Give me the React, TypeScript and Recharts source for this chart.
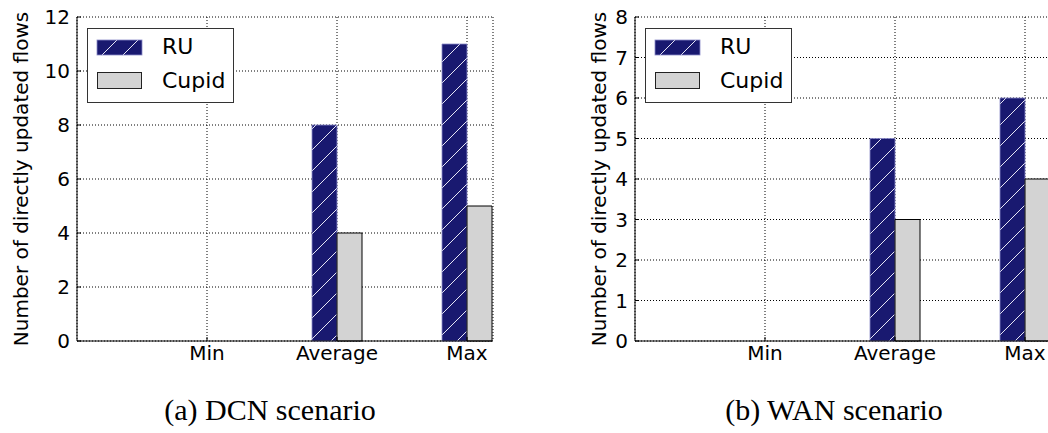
import { Bar, BarChart, CartesianGrid, Legend, XAxis, YAxis } from "recharts";

// values
const categories = ["Min", "Average", "Max"];
const seriesNames = ["RU", "Cupid"];
const dcnRU = [0, 8, 11];
const dcnCupid = [0, 4, 5];
const wanRU = [0, 5, 6];
const wanCupid = [0, 3, 4];
const dcnYTicks = [0, 2, 4, 6, 8, 10, 12];
const wanYTicks = [0, 1, 2, 3, 4, 5, 6, 7, 8];
const xTicks = [0, 1, 2];
const yLabel = "Number of directly updated flows";
const captions = ["(a) DCN scenario", "(b) WAN scenario"];

const FONT = "DejaVu Sans";
const NAVY = "#191970";
const GRAY = "#d3d3d3";

function Hatch({ id }: { id: string }) {
  return (
    <pattern id={id} patternUnits="userSpaceOnUse" width={21} height={21}>
      <rect width={21} height={21} fill={NAVY} />
      <path d="M0,21 L21,0 M-3,3 L3,-3 M18,24 L24,18" stroke="#e6e6f5" strokeWidth={1} />
    </pattern>
  );
}

function LegendBox({ id }: { id: string }) {
  return (
    <svg width={147} height={75} style={{ display: "block" }}>
      <defs>
        <Hatch id={id} />
      </defs>
      <rect x={0.5} y={0.5} width={146} height={74} fill="#fff" stroke="#333" />
      <rect x={10} y={12} width={45} height={15} fill={`url(#${id})`} stroke="#8a8ac8" strokeWidth={0.8} />
      <text x={75} y={26} fontSize={22} fontFamily={FONT} fill="#000">
        {seriesNames[0]}
      </text>
      <rect x={10.5} y={44.5} width={44} height={16} fill={GRAY} stroke="#222" />
      <text x={75} y={60} fontSize={22} fontFamily={FONT} fill="#000">
        {seriesNames[1]}
      </text>
    </svg>
  );
}

function Panel(props: { ru: number[]; cupid: number[]; yTicks: number[]; left: number; labelX: number; id: string }) {
  const { ru, cupid, yTicks, left, labelX, id } = props;
  const data = categories.map((name, i) => ({ x: i, name, ru: ru[i], cupid: cupid[i] }));
  const yMax = yTicks[yTicks.length - 1];
  const tickStyle = { fill: "#000", fontSize: 20, fontFamily: FONT };

  return (
    <div style={{ position: "absolute", left, top: 0 }}>
      <BarChart width={520} height={380} data={data} barGap={0} margin={{ top: 17, right: 27, bottom: 9, left: 0 }}>
        <defs>
          <Hatch id={id + "-bar"} />
        </defs>
        <CartesianGrid stroke="#000" strokeWidth={1} strokeDasharray="1 2" />
        <XAxis
          dataKey="x"
          type="number"
          domain={[-1, 2.2]}
          allowDataOverflow
          ticks={xTicks}
          tickFormatter={(v: number) => categories[v] ?? ""}
          interval={0}
          height={30}
          stroke="#000"
          tickSize={-4}
          tickMargin={9}
          tick={tickStyle}
        />
        <XAxis
          xAxisId="top"
          orientation="top"
          dataKey="x"
          type="number"
          domain={[-1, 2.2]}
          allowDataOverflow
          ticks={xTicks}
          height={0}
          stroke="#000"
          tickSize={-4}
          tick={false}
        />
        <YAxis
          domain={[0, yMax]}
          ticks={yTicks}
          interval={0}
          width={77}
          stroke="#000"
          tickSize={-4}
          tickMargin={11}
          tick={tickStyle}
          label={{
            content: (p: any) => {
              const vb = p.viewBox || {};
              const cy = (vb.y ?? 17) + (vb.height ?? 324) / 2;
              return (
                <text
                  transform={`translate(${labelX},${cy}) rotate(-90)`}
                  textAnchor="middle"
                  fontSize={20}
                  fontFamily={FONT}
                  fill="#000"
                >
                  {yLabel}
                </text>
              );
            },
          }}
        />
        <YAxis
          yAxisId="right"
          orientation="right"
          domain={[0, yMax]}
          ticks={yTicks}
          interval={0}
          width={0}
          stroke="#000"
          tickSize={-4}
          tick={false}
        />
        <Legend
          layout="vertical"
          align="center"
          verticalAlign="middle"
          wrapperStyle={{ left: 87, top: 28, width: 147, height: 75 }}
          content={() => <LegendBox id={id + "-leg"} />}
        />
        <Bar
          dataKey="ru"
          name={seriesNames[0]}
          barSize={25}
          fill={`url(#${id}-bar)`}
          stroke="#8a8ac8"
          strokeWidth={0.8}
          isAnimationActive={false}
        />
        <Bar
          dataKey="cupid"
          name={seriesNames[1]}
          barSize={25}
          fill={GRAY}
          stroke="#000"
          strokeWidth={1}
          isAnimationActive={false}
        />
      </BarChart>
    </div>
  );
}

export default function App() {
  return (
    <div
      style={{
        position: "absolute",
        left: 0,
        top: 0,
        width: 1048,
        height: 433,
        overflow: "hidden",
        background: "#fff",
      }}
    >
      <Panel ru={dcnRU} cupid={dcnCupid} yTicks={dcnYTicks} left={0} labelX={28} id="dcn" />
      <Panel ru={wanRU} cupid={wanCupid} yTicks={wanYTicks} left={558} labelX={48} id="wan" />
      <svg width={1048} height={433} style={{ position: "absolute", left: 0, top: 0, pointerEvents: "none" }}>
        <text x={270} y={420} textAnchor="middle" fontSize={30} fontFamily="Liberation Serif" fill="#000">
          {captions[0]}
        </text>
        <text x={834} y={420} textAnchor="middle" fontSize={30} fontFamily="Liberation Serif" fill="#000">
          {captions[1]}
        </text>
      </svg>
    </div>
  );
}
